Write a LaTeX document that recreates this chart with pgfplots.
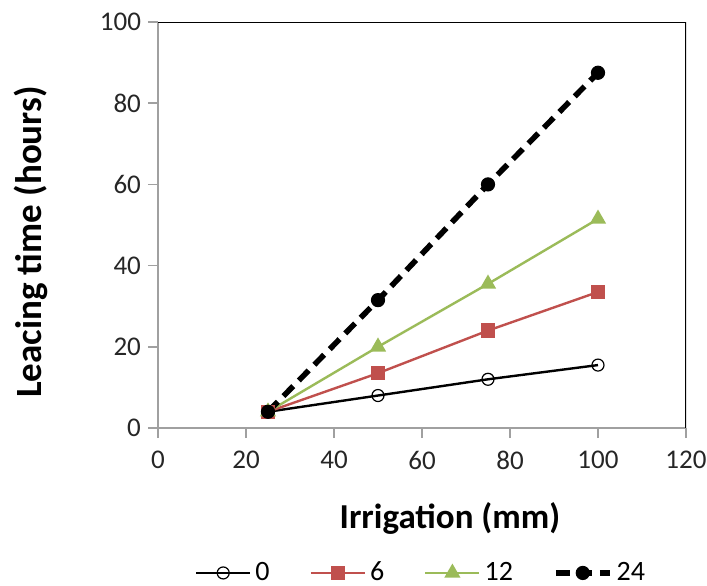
\documentclass[border=0pt]{standalone}
\usepackage{pgfplots}
\pgfplotsset{compat=1.18}
\usepackage{fontspec}
\setmainfont{Carlito}

\definecolor{exred}{HTML}{C0504D}
\definecolor{exgreen}{HTML}{9BBB59}
\definecolor{axgrey}{HTML}{A0A0A0}

\begin{document}
\begin{tikzpicture}
\useasboundingbox (-79pt,-78.5pt) rectangle (274.5pt,214pt);
\begin{axis}[
    scale only axis,
    width=264pt, height=203pt,
    xmin=0, xmax=120, ymin=0, ymax=100,
    xtick={0,20,...,120}, ytick={0,20,...,100},
    axis x line*=bottom, axis y line*=left,
    axis line style={axgrey, line width=0.8pt, -},
    tick align=outside, major tick length=5pt,
    tick style={axgrey, line width=0.8pt},
    /pgf/number format/assume math mode=true,
    ticklabel style={font=\fontsize{13.5}{15}\selectfont, text=black!85},
    xticklabel style={yshift=-3pt},
    xlabel={\textbf{Irrigation (mm)}},
    ylabel={\textbf{Leacing time (hours)}},
    xlabel style={at={(axis description cs:0.553,-0.2217)}, anchor=center, font=\fontsize{17.5}{20}\selectfont},
    ylabel style={at={(axis description cs:-0.2405,0.458)}, anchor=center, font=\fontsize{18.5}{21}\selectfont},
    legend columns=-1,
    legend style={at={(0.5,-0.357)}, anchor=center, draw=none, fill=none,
        font=\fontsize{14}{16}\selectfont,
        /tikz/every even column/.append style={column sep=18pt}},
    legend image code/.code={
        \draw[mark repeat=2,mark phase=2,#1] plot coordinates {(0pt,0pt) (13.5pt,0pt) (27pt,0pt)};
    },
]
\addplot[black, line width=1.2pt, mark=o, mark size=3pt, mark options={solid, fill=white, line width=0.6pt}]
    coordinates {(25,4) (50,8) (75,12) (100,15.5)};
\addlegendentry{0}
\addplot[exred, line width=1.2pt, mark=square*, mark size=3pt, mark options={solid}]
    coordinates {(25,4) (50,13.5) (75,24) (100,33.5)};
\addlegendentry{6}
\addplot[exgreen, line width=1.2pt, mark=triangle*, mark size=3.5pt, mark options={solid}]
    coordinates {(25,4) (50,20) (75,35.5) (100,51.5)};
\addlegendentry{12}
\addplot[black, line width=2.8pt, dash pattern=on 7pt off 4pt, mark=*, mark size=3.3pt, mark options={solid, line width=0.5pt}]
    coordinates {(25,4) (50,31.5) (75,60) (100,87.5)};
\addlegendentry{24}
\draw[black, line width=0.8pt] (rel axis cs:0,1) -- (rel axis cs:1,1) -- (rel axis cs:1,0);
\end{axis}
\end{tikzpicture}
\end{document}
